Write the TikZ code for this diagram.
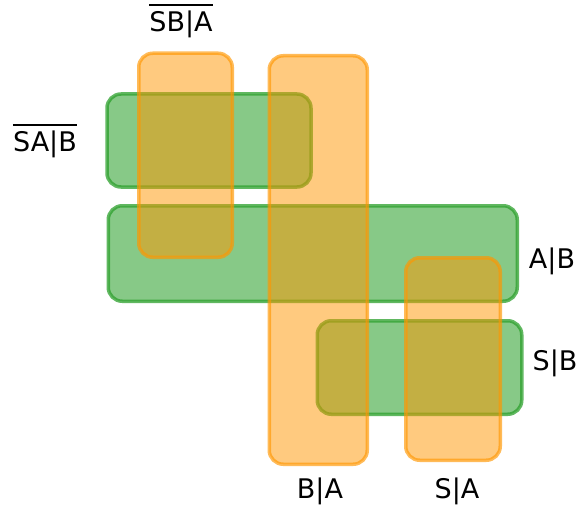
\documentclass[tikz,border=0pt]{standalone}
\usepackage{fontspec}
\setmainfont{DejaVu Sans}
\definecolor{gbase}{RGB}{44,160,44}
\definecolor{obase}{RGB}{255,150,0}
\tikzset{
  gbox/.style={draw=gbase, draw opacity=0.75, fill=gbase, fill opacity=0.57, line width=3.5pt, rounded corners=14pt, inner sep=0pt, outer sep=0pt},
  obox/.style={draw=obase, draw opacity=0.65, fill=obase, fill opacity=0.5, line width=3.5pt, rounded corners=14pt, inner sep=0pt, outer sep=0pt},
  lab/.style={font=\fontsize{27}{30}\selectfont, inner sep=0pt},
  bar/.style={line width=1.8pt}
}
\begin{document}
\begin{tikzpicture}[x=1pt,y=-1pt]
\useasboundingbox (0,0) rectangle (578,508);
\node[gbox, minimum width=204pt, minimum height=93pt] (g1) at (209,140.5) {};
\node[gbox, minimum width=409pt, minimum height=95.5pt] (g2) at (312.75,253.5) {};
\node[gbox, minimum width=204.5pt, minimum height=93.5pt] (g3) at (419.5,367.5) {};
\node[obox, minimum width=93.5pt, minimum height=204pt] (o1) at (185.5,155.25) {};
\node[obox, minimum width=98pt, minimum height=408.5pt] (o2) at (318.25,260) {};
\node[obox, minimum width=94.5pt, minimum height=202.5pt] (o3) at (453,359) {};
\node[lab] (l1) at (181,24) {SB|A};
\node[lab] (l2) at (45,144) {SA|B};
\draw[bar] ([yshift=5pt]l1.north west) -- ([yshift=5pt]l1.north east);
\draw[bar] ([yshift=5pt]l2.north west) -- ([yshift=5pt]l2.north east);
\node[lab] (l3) at (552,261) {A|B};
\node[lab] (l4) at (555,363) {S|B};
\node[lab] (l5) at (320,491) {B|A};
\node[lab] (l6) at (457,491) {S|A};
\end{tikzpicture}
\end{document}
